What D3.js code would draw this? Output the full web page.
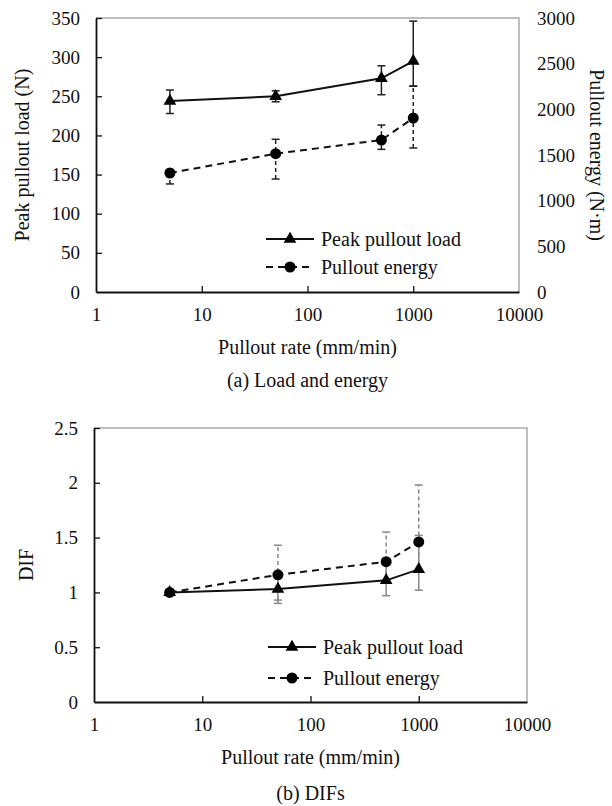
<!DOCTYPE html>
<html lang="en">
<head>
<meta charset="utf-8">
<script src="https://d3js.org/d3.v7.min.js"></script>
<style>
  body { margin: 0; background: #fff; }
</style>
</head>
<body>
<script>
// ---- data ----
const rates = [5, 50, 500, 1000];
const xTicks = [1, 10, 100, 1000, 10000];

// (a) load and energy
const loadMean = [244, 250, 273, 295];
const loadLow  = [228, 243, 252, 263];
const loadHigh = [258, 257, 289, 346];
const energyMean = [1303, 1514, 1664, 1905];
const energyLow  = [1183, 1237, 1562, 1577];
const energyHigh = [1340, 1672, 1828, 2255];
const loadTicks = [0, 50, 100, 150, 200, 250, 300, 350];
const energyTicks = [0, 500, 1000, 1500, 2000, 2500, 3000];

// (b) DIFs
const difLoad = [1.0, 1.03, 1.11, 1.21];
const difLoadLow = [1.0, 0.90, 0.97, 1.02];
const difLoadHigh = [1.0, 1.16, 1.25, 1.52];
const difEnergy = [1.0, 1.16, 1.28, 1.46];
const difEnergyLow = [1.0, 0.93, 1.10, 1.20];
const difEnergyHigh = [1.0, 1.43, 1.55, 1.98];
const difTicks = [0, 0.5, 1, 1.5, 2, 2.5];

const seriesNames = ["Peak pullout load", "Pullout energy"];

const W = 612, H = 806;
const FONT = "Liberation Serif";
const svg = d3.select("body").append("svg").attr("width", W).attr("height", H)
  .attr("font-family", FONT);

const tickSize = 19, labelSize = 20;
const tri = d3.symbol().type(d3.symbolTriangle).size(70);

function addText(g, size) {
  return g.append("text").attr("font-family", FONT).attr("font-size", size).attr("fill", "#111");
}

function drawPanel(o) {
  const x = d3.scaleLog().domain([1, 10000]).range([o.left, o.right]);
  const y = d3.scaleLinear().domain(o.yDomain).range([o.bottom, o.top]);
  const y2 = o.y2Domain ? d3.scaleLinear().domain(o.y2Domain).range([o.bottom, o.top]) : y;
  const g = svg.append("g");

  // gray frame on top / right
  g.append("path")
    .attr("d", `M${o.left},${o.top}H${o.right}V${o.bottom}`)
    .attr("fill", "none").attr("stroke", "#aaa").attr("stroke-width", 1.5);

  // bottom axis
  const xa = g.append("g").attr("transform", `translate(0,${o.bottom})`)
    .call(d3.axisBottom(x).tickValues(xTicks).tickFormat(d3.format("d"))
      .tickSizeInner(-6).tickSizeOuter(0).tickPadding(16));
  // left axis
  const ya = g.append("g").attr("transform", `translate(${o.left},0)`)
    .call(d3.axisLeft(y).tickValues(o.yTicks).tickFormat(o.yFormat)
      .tickSizeInner(-6).tickSizeOuter(0).tickPadding(16));
  [xa, ya].forEach(a => {
    a.attr("font-family", FONT).attr("font-size", tickSize);
    a.select(".domain").attr("stroke", "#111").attr("stroke-width", 1.8);
    a.selectAll(".tick line").attr("stroke", "#111").attr("stroke-width", 1.3);
    a.selectAll("text").attr("fill", "#111");
  });
  xa.selectAll(".tick").filter(d => d === 1 || d === 10000).select("line").remove();
  ya.selectAll(".tick").filter(d => d === o.yDomain[0]).select("line").remove();

  // right axis (labels only)
  if (o.y2Domain) {
    const ra = g.append("g").attr("transform", `translate(${o.right},0)`)
      .call(d3.axisRight(y2).tickValues(o.y2Ticks).tickFormat(d3.format("d"))
        .tickSize(0).tickPadding(18));
    ra.attr("font-family", FONT).attr("font-size", tickSize);
    ra.select(".domain").remove();
    ra.selectAll("text").attr("fill", "#111");
  }

  // error bars
  function errBars(mean, low, high, sc, dashed, color) {
    const cap = 4;
    rates.forEach((r, i) => {
      if (high[i] === low[i]) return;
      const cx = x(r);
      const eg = g.append("g").attr("stroke", color).attr("stroke-width", 1.5).attr("fill", "none");
      eg.append("line").attr("x1", cx).attr("x2", cx).attr("y1", sc(low[i])).attr("y2", sc(high[i]))
        .attr("stroke-dasharray", dashed ? "4,3" : null);
      [low[i], high[i]].forEach(v => {
        eg.append("line").attr("x1", cx - cap).attr("x2", cx + cap).attr("y1", sc(v)).attr("y2", sc(v));
      });
    });
  }
  errBars(o.s1, o.s1Low, o.s1High, y, false, o.errColor);
  errBars(o.s2, o.s2Low, o.s2High, y2, true, o.errColor);

  // lines
  const line1 = d3.line().x((d, i) => x(rates[i])).y(d => y(d));
  const line2 = d3.line().x((d, i) => x(rates[i])).y(d => y2(d));
  g.append("path").datum(o.s2).attr("d", line2).attr("fill", "none")
    .attr("stroke", "#111").attr("stroke-width", 2).attr("stroke-dasharray", "7,5");
  g.append("path").datum(o.s1).attr("d", line1).attr("fill", "none")
    .attr("stroke", "#111").attr("stroke-width", 2);

  // markers
  g.selectAll(".c").data(o.s2).enter().append("circle")
    .attr("cx", (d, i) => x(rates[i])).attr("cy", d => y2(d)).attr("r", 5.5).attr("fill", "#000");
  g.selectAll(".t").data(o.s1).enter().append("path")
    .attr("d", tri).attr("transform", (d, i) => `translate(${x(rates[i])},${y(d)})`).attr("fill", "#000");

  // legend
  const lg = g.append("g");
  seriesNames.forEach((name, i) => {
    const ly = o.legendY[i];
    lg.append("line").attr("x1", o.legendX).attr("x2", o.legendX + 48).attr("y1", ly).attr("y2", ly)
      .attr("stroke", "#111").attr("stroke-width", 2).attr("stroke-dasharray", i ? "7,5" : null);
    if (i === 0) lg.append("path").attr("d", tri).attr("transform", `translate(${o.legendX + 24},${ly})`).attr("fill", "#000");
    else lg.append("circle").attr("cx", o.legendX + 24).attr("cy", ly).attr("r", 5.5).attr("fill", "#000");
    addText(lg, labelSize).attr("x", o.legendX + 55).attr("y", ly).attr("dy", "0.35em").text(name);
  });

  // titles
  const midX = (o.left + o.right) / 2, midY = (o.top + o.bottom) / 2;
  addText(g, labelSize).attr("x", midX).attr("y", o.bottom + 55).attr("dy", "0.35em")
    .attr("text-anchor", "middle").text("Pullout rate (mm/min)");
  addText(g, labelSize).attr("transform", `translate(${o.yTitleX},${midY}) rotate(-90)`).attr("dy", "0.35em")
    .attr("text-anchor", "middle").text(o.yTitle);
  if (o.y2Title) {
    addText(g, labelSize).attr("transform", `translate(597,${midY}) rotate(90)`).attr("dy", "0.35em")
      .attr("text-anchor", "middle").text(o.y2Title);
  }
  addText(g, labelSize).attr("x", midX).attr("y", o.captionY).attr("dy", "0.35em")
    .attr("text-anchor", "middle").text(o.caption);
}

drawPanel({
  left: 96, right: 519, top: 18, bottom: 292,
  yDomain: [0, 350], yTicks: loadTicks, yFormat: d3.format("d"),
  y2Domain: [0, 3000], y2Ticks: energyTicks,
  s1: loadMean, s1Low: loadLow, s1High: loadHigh,
  s2: energyMean, s2Low: energyLow, s2High: energyHigh,
  errColor: "#222",
  legendX: 266, legendY: [239, 267],
  yTitle: "Peak pullout load (N)", yTitleX: 22,
  y2Title: "Pullout energy (N\u00b7m)",
  caption: "(a) Load and energy", captionY: 380
});

drawPanel({
  left: 94, right: 527, top: 428, bottom: 702,
  yDomain: [0, 2.5], yTicks: difTicks, yFormat: d => String(d),
  s1: difLoad, s1Low: difLoadLow, s1High: difLoadHigh,
  s2: difEnergy, s2Low: difEnergyLow, s2High: difEnergyHigh,
  errColor: "#888",
  legendX: 268, legendY: [647, 678],
  yTitle: "DIF", yTitleX: 26,
  caption: "(b) DIFs", captionY: 793
});
</script>
</body>
</html>
